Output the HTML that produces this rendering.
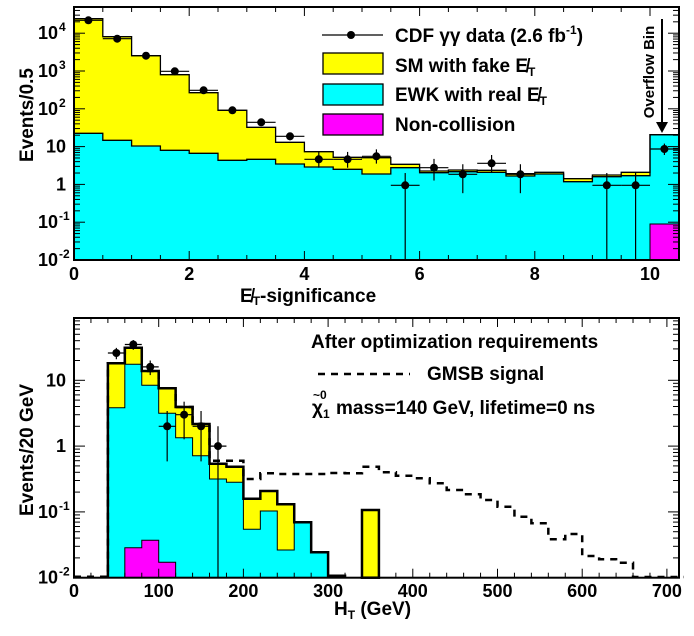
<!DOCTYPE html>
<html><head><meta charset="utf-8">
<style>
html,body{margin:0;padding:0;background:#fff;}
svg{display:block;font-family:"Liberation Sans",Arial,sans-serif;font-weight:bold;}
</style></head>
<body>
<svg id="s" width="694" height="636" viewBox="0 0 694 636" xmlns="http://www.w3.org/2000/svg"></svg>
<script>
const S=document.getElementById('s');let h='';
function add(x){h+=x;}
function fillPath(tops,xf,w,x0,bottom,color){let p='';tops.forEach((t,i)=>{const a=xf(x0+i*w),b=xf(x0+(i+1)*w);if(i==0)p+=`M${a},${bottom}L${a},${t}`;else p+=`L${a},${t}`;p+=`L${b},${t}`;});p+=`L${xf(x0+tops.length*w)},${bottom}Z`;add(`<path d="${p}" fill="${color}" stroke="none"/>`);}
function stepLine(tops,xf,w,x0,bottom,sw,dash){let p='';tops.forEach((t,i)=>{const a=xf(x0+i*w),b=xf(x0+(i+1)*w);if(i==0)p+=`M${a},${bottom}L${a},${t}`;else p+=`L${a},${t}`;p+=`L${b},${t}`;});p+=`L${xf(x0+tops.length*w)},${bottom}`;add(`<path d="${p}" fill="none" stroke="#000" stroke-width="${sw}" ${dash?`stroke-dasharray="${dash}"`:''}/>`);}
// ---------- TOP PANEL ----------
const tL=74,tR=679,tT=7,tB=260,tD=37.8;
const tx=v=>tL+v*57.6;
const tyv=v=>tB-(Math.log10(v)+2)*tD;
const yel=[18.7,36.7,55.7,74.7,92.7,110.3,127.3,142.3,151.7,157.3,157.7,164.3,171,170,170.3,173.7,172.3,178.7,175,172.3,134.7];
const cy=[133.3,140.3,146,150.3,153.3,160.3,159.3,164,167,169.3,174,167.7,172.7,171.7,172.3,176,174,181.7,176.7,175.7,134.7];
fillPath(yel,tx,.5,0,tB,'#ffff00');
fillPath(cy,tx,.5,0,tB,'#00ffff');
add(`<rect x="${tx(10)}" y="224" width="28.8" height="${tB-224}" fill="#ff00ff"/>`);
stepLine(yel,tx,.5,0,tB,1.3);
stepLine(cy,tx,.5,0,tB,1.3);
add(`<path d="M${tx(10)},${tB}L${tx(10)},224L${tR},224" fill="none" stroke="#000" stroke-width="1"/>`);
const tdat=[[.25,20.3],[.75,38.7],[1.25,55.7],[1.75,71.3],[2.25,90.3],[2.75,110.3],[3.25,122.3],[3.75,136.3],[4.25,159.3],[4.75,159.3],[5.25,156.3],[5.75,185.3],[6.25,167.7],[6.75,174.3],[7.25,163.3],[7.75,174.3],[9.25,185.3],[9.75,185.3],[10.25,149]];
tdat.forEach(([x,y])=>{const N=Math.round(Math.pow(10,(tB-y)/tD-2));const e=Math.sqrt(N);const hi=tyv(N+e);const lo=N-e>0.01?tyv(N-e):tB;
add(`<line x1="${tx(x-.25)}" y1="${y}" x2="${tx(x+.25)}" y2="${y}" stroke="#000" stroke-width="1.2"/><line x1="${tx(x)}" y1="${hi}" x2="${tx(x)}" y2="${lo}" stroke="#000" stroke-width="1.2"/><circle cx="${tx(x)}" cy="${y}" r="4" fill="#000"/>`);});
function frame(L,T,R,B){add(`<rect x="${L}" y="${T}" width="${R-L}" height="${B-T}" fill="none" stroke="#000" stroke-width="2"/>`);}
frame(tL,tT,tR,tB);
for(let v=0;v<=10.5001;v+=0.5){const x=tx(v);const big=Math.abs(v%2)<1e-6;const l=big?9:5;add(`<line x1="${x}" y1="${tB}" x2="${x}" y2="${tB-l}" stroke="#000"/><line x1="${x}" y1="${tT}" x2="${x}" y2="${tT+l}" stroke="#000"/>`);}
for(let d=-2;d<=4;d++){for(let k=1;k<10;k++){const y=tB-(d+2+Math.log10(k))*tD;if(y<tT)continue;const l=k==1?11:6;add(`<line x1="${tL}" y1="${y}" x2="${tL+l}" y2="${y}" stroke="#000"/><line x1="${tR}" y1="${y}" x2="${tR-l}" y2="${y}" stroke="#000"/>`);}}
[0,2,4,6,8,10].forEach(v=>add(`<text x="${tx(v)}" y="280" font-size="18" text-anchor="middle">${v}</text>`));
const ylab=[['10','-2'],['10','-1'],['1',''],['10',''],['10','2'],['10','3'],['10','4']];
ylab.forEach(([b,e],i)=>{const y=tB-i*tD+6;add(`<text x="${e?58:66}" y="${y}" font-size="18" text-anchor="end">${b}</text>`);if(e)add(`<text x="59" y="${y-8}" font-size="12">${e}</text>`);});
add(`<text x="240" y="302" font-size="19"><tspan>E̸</tspan><tspan font-size="12" dy="3">T</tspan><tspan dy="-3">-significance</tspan></text>`);
add(`<text transform="translate(33,115) rotate(-90)" font-size="19" text-anchor="middle">Events/0.5</text>`);
add(`<line x1="322" y1="35" x2="383" y2="35" stroke="#000" stroke-width="1.2"/><circle cx="351" cy="35" r="4" fill="#000"/>`);
[['#ffff00',53],['#00ffff',84],['#ff00ff',114]].forEach(([c,y])=>add(`<rect x="323" y="${y}" width="60" height="21" fill="${c}" stroke="#000" stroke-width="1.3"/>`));
add(`<text x="395" y="42" font-size="19">CDF γγ data (2.6 fb<tspan font-size="12" dy="-8">-1</tspan><tspan dy="8">)</tspan></text>`);
add(`<text x="395" y="72" font-size="19">SM with fake E̸<tspan font-size="12" dy="4">T</tspan></text>`);
add(`<text x="395" y="101" font-size="19">EWK with real E̸<tspan font-size="12" dy="4">T</tspan></text>`);
add(`<text x="395" y="131" font-size="19">Non-collision</text>`);
add(`<text transform="translate(654,72) rotate(-90)" font-size="15" text-anchor="middle">Overflow Bin</text>`);
add(`<line x1="662" y1="19" x2="662" y2="124" stroke="#000" stroke-width="2"/><path d="M656,122L668,122L662,133Z" fill="#000"/>`);

// ---------- BOTTOM PANEL ----------
const bL=74,bR=679,bT=318,bB=577.7,bD=65.8,sx=0.847;
const bx=g=>bL+g*sx;
const byv=v=>bB-(Math.log10(v)+2)*bD;
const sm=[363.3,347.7,371,388.3,407,424,463.7,466.7,498.7,491,504.3,522.3,552.3,575.7];
const cb=[407.7,364.3,385.3,413.3,437.7,455.7,479,482.3,529.3,511,550,522.3,552.3,575.7];
fillPath(sm,bx,20,40,bB,'#ffff00');
fillPath(cb,bx,20,40,bB,'#00ffff');
fillPath([547.7,540.3,562.3],bx,20,60,bB,'#ff00ff');
stepLine([547.7,540.3,562.3],bx,20,60,bB,1);
stepLine(cb,bx,20,40,bB,1);
add(`<rect x="${bx(340)}" y="510" width="${20*sx}" height="${bB-510}" fill="#ffff00" stroke="#000" stroke-width="2.5"/>`);
stepLine(sm,bx,20,40,bB,2.5);
const gm=[363.3,347.7,371,388.3,407,424,460.7,460.7,479,473.3,474,474,474,473,473.3,466.7,472.3,475.7,478.3,483.3,490,494.3,500,506.7,516.7,523.3,539.3,534,556,559.3,562.7,577,577,577];
let gp=`M${bx(0)},${bB-1}L${bx(40)},${bB-1}`;gm.forEach((t,i)=>{gp+=`L${bx(40+20*i)},${t}L${bx(60+20*i)},${t}`;});
add(`<path d="${gp}" fill="none" stroke="#000" stroke-width="2.5" stroke-dasharray="7,6"/>`);
[[50,26],[70,35],[90,16],[110,2],[130,3],[150,2],[170,1]].forEach(([g,N])=>{const y=byv(N),e=Math.sqrt(N);const hi=byv(N+e);const lo=N-e>0.01?byv(N-e):bB;
add(`<line x1="${bx(g-10)}" y1="${y}" x2="${bx(g+10)}" y2="${y}" stroke="#000" stroke-width="1.2"/><line x1="${bx(g)}" y1="${hi}" x2="${bx(g)}" y2="${lo}" stroke="#000" stroke-width="1.2"/><circle cx="${bx(g)}" cy="${y}" r="4" fill="#000"/>`);});
frame(bL,bT,bR,bB);
for(let g=0;g<=710;g+=20){const x=bx(g);const big=g%100==0;const l=big?9:5;add(`<line x1="${x}" y1="${bB}" x2="${x}" y2="${bB-l}" stroke="#000"/><line x1="${x}" y1="${bT}" x2="${x}" y2="${bT+l}" stroke="#000"/>`);}
for(let d=-2;d<=1;d++){for(let k=1;k<10;k++){const y=bB-(d+2+Math.log10(k))*bD;if(y<bT)continue;const l=k==1?11:6;add(`<line x1="${bL}" y1="${y}" x2="${bL+l}" y2="${y}" stroke="#000"/><line x1="${bR}" y1="${y}" x2="${bR-l}" y2="${y}" stroke="#000"/>`);}}
for(let g=0;g<=700;g+=100)add(`<text x="${bx(g)}" y="597" font-size="18" text-anchor="middle">${g}</text>`);
[['10','-2'],['10','-1'],['1',''],['10','']].forEach(([b,e],i)=>{const y=bB-i*bD+6;add(`<text x="${e?58:66}" y="${y}" font-size="18" text-anchor="end">${b}</text>`);if(e)add(`<text x="59" y="${y-8}" font-size="12">${e}</text>`);});
add(`<text x="334" y="615" font-size="19">H<tspan font-size="12" dy="4">T</tspan><tspan dy="-4"> (GeV)</tspan></text>`);
add(`<text transform="translate(33,450) rotate(-90)" font-size="19" text-anchor="middle">Events/20 GeV</text>`);
add(`<text x="311" y="348" font-size="19">After optimization requirements</text>`);
add(`<line x1="318" y1="374" x2="410" y2="374" stroke="#000" stroke-width="2.5" stroke-dasharray="7,6"/>`);
add(`<text x="427" y="380" font-size="19">GMSB signal</text>`);
add(`<text x="312" y="414" font-size="19">χ<tspan font-size="12" dy="4">1</tspan></text><text x="313" y="399" font-size="12">~0</text><text x="336" y="414" font-size="19">mass=140 GeV, lifetime=0 ns</text>`);
S.innerHTML=h;
</script>
</body></html>
